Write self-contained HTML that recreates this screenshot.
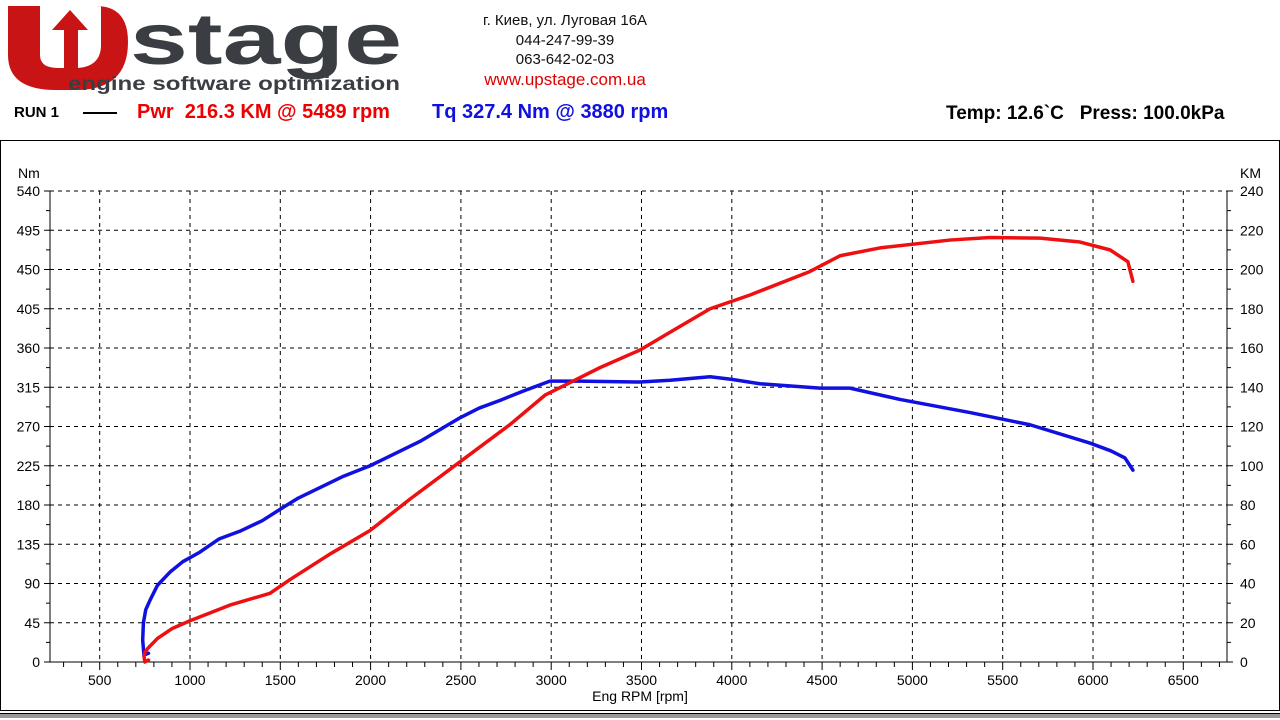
<!DOCTYPE html>
<html><head><meta charset="utf-8"><style>
body{margin:0;width:1280px;height:720px;background:#fff;font-family:"Liberation Sans",sans-serif;overflow:hidden;position:relative}
.t{position:absolute;white-space:nowrap}
</style></head><body>
<div class="t" style="left:6px;top:0;width:400px;height:95px">
<svg width="400" height="95">
<path d="M2 6 H34 V55 Q34 68 52 68 H58 V30 H46 L64 10 L82 30 H72 V68 Q95 66 95 45 V6 H90 Q122 6 122 42 Q122 90 70 90 H50 Q2 90 2 55 Z" fill="#c81414"/>
<text x="124" y="64" font-family="Liberation Sans" font-weight="bold" font-size="72" fill="#3a3d42" textLength="272" lengthAdjust="spacingAndGlyphs">stage</text>
<text x="62" y="90" font-family="Liberation Sans" font-weight="bold" font-size="19" fill="#3a3d42" textLength="332" lengthAdjust="spacingAndGlyphs">engine software optimization</text>
</svg></div>
<div class="t" style="left:455px;top:11px;width:220px;text-align:center;font-size:15px;line-height:19.5px;color:#111">г. Киев, ул. Луговая 16А<br>044-247-99-39<br>063-642-02-03<br><span style="color:#d00;font-size:17px">www.upstage.com.ua</span></div>
<div class="t" style="left:14px;top:104px;font-weight:bold;font-size:15px">RUN 1</div>
<div style="position:absolute;left:83px;top:112px;width:34px;height:2px;background:#000"></div>
<div class="t" style="left:137px;top:101px;font-weight:bold;font-size:20px;color:#e00">Pwr&nbsp; 216.3 KM @ 5489 rpm</div>
<div class="t" style="left:432px;top:101px;font-weight:bold;font-size:20px;color:#1010e0">Tq 327.4 Nm @ 3880 rpm</div>
<div class="t" style="left:946px;top:103px;font-weight:bold;font-size:19px">Temp: 12.6`C&nbsp;&nbsp; Press: 100.0kPa</div>
<div style="position:absolute;left:0;top:140px;width:1278px;height:569px;border:1px solid #000"></div>
<div style="position:absolute;left:0;top:713px;width:1280px;height:4px;background:#999;border-top:1px solid #000"></div>
<svg id="c" width="1280" height="720" style="position:absolute;left:0;top:0"></svg>
<script>
const rpmTicks=[500,1000,1500,2000,2500,3000,3500,4000,4500,5000,5500,6000,6500];
const nmTicks=[0,45,90,135,180,225,270,315,360,405,450,495,540];
const kmTicks=[0,20,40,60,80,100,120,140,160,180,200,220,240];
const tqRpm=[770,745,738,742,755,779,820,889,960,1055,1160,1277,1400,1498,1600,1720,1850,1997,2274,2495,2600,2717,2850,2993,3160,3492,3658,3880,4000,4156,4488,4654,4931,5319,5651,5983,6100,6177,6221];
const tqNm=[10,8,25,45,60,71,88,103,115,126,141,150,162,175,188,200,213,225,253,280,291,300,311,322,322,321,323,327,324,319,314,314,301,286,272,251,242,234,220];
const pwRpm=[770,750,745,751,767,820,900,1000,1221,1443,1554,1775,1997,2218,2495,2772,2966,3270,3492,3658,3880,4101,4433,4599,4820,5208,5430,5707,5928,6094,6193,6221];
const pwKm=[1,0,3,5,7,12,17,21,29,35,42,55,67,83,102,121,136,150,159,168,180,187,199,207,211,215,216.3,216,214,210,204,194];
const X=r=>190+(r-1000)*0.1806, YL=v=>662-v*(471/540), YR=v=>662-v*(471/240);
const L=50,R=1227,T=191,B=662;
const s=document.getElementById('c');const ns='http://www.w3.org/2000/svg';
function el(t,a,txt){const e=document.createElementNS(ns,t);for(const k in a)e.setAttribute(k,a[k]);if(txt!==undefined)e.textContent=txt;s.appendChild(e);return e;}
rpmTicks.forEach(r=>{const g=el('line',{x1:X(r),x2:X(r),y1:T,y2:B,stroke:'#000','stroke-dasharray':'4,4'});


const t=el('text',{x:X(r),y:685,'text-anchor':'middle','font-size':14,'font-family':'Liberation Sans'},r);

});
for(let r=300;r<=6700;r+=100){el('line',{x1:X(r),x2:X(r),y1:B,y2:B+(r%500?5:8),stroke:'#000'});}
nmTicks.forEach((v,i)=>{const g=el('line',{x1:L,x2:R,y1:YL(v),y2:YL(v),stroke:'#000','stroke-dasharray':'4,4'});


const t=el('text',{x:40,y:YL(v)+5,'text-anchor':'end','font-size':14,'font-family':'Liberation Sans'},v);


const t2=el('text',{x:1240,y:YR(kmTicks[i])+5,'font-size':14,'font-family':'Liberation Sans'},kmTicks[i]);


el('line',{x1:L-6,x2:L,y1:YL(v),y2:YL(v),stroke:'#000'});el('line',{x1:R,x2:R+6,y1:YL(v),y2:YL(v),stroke:'#000'});
if(i<nmTicks.length-1){const m=YL(v+22.5);el('line',{x1:L-4,x2:L,y1:m,y2:m,stroke:'#000'});el('line',{x1:R,x2:R+4,y1:m,y2:m,stroke:'#000'});}});
el('line',{x1:L,x2:L,y1:T,y2:B,stroke:'#000'});el('line',{x1:R,x2:R,y1:T,y2:B,stroke:'#000'});el('line',{x1:L,x2:R,y1:B,y2:B,stroke:'#000'});
let a=el('text',{x:18,y:178,'font-size':14,'font-family':'Liberation Sans'},'Nm');
a=el('text',{x:1240,y:178,'font-size':14,'font-family':'Liberation Sans'},'KM');
a=el('text',{x:640,y:701,'text-anchor':'middle','font-size':14,'font-family':'Liberation Sans'},'Eng RPM [rpm]');
function curve(xs,ys,f,c,n){const p=el('polyline',{points:xs.map((r,i)=>X(r)+','+f(ys[i])).join(' '),fill:'none',stroke:c,'stroke-width':3.5,'stroke-linejoin':'round','stroke-linecap':'round'});

}
curve(tqRpm,tqNm,YL,'#1010e0','torque-curve');
curve(pwRpm,pwKm,YR,'#ee1010','power-curve');
</script>
</body></html>
